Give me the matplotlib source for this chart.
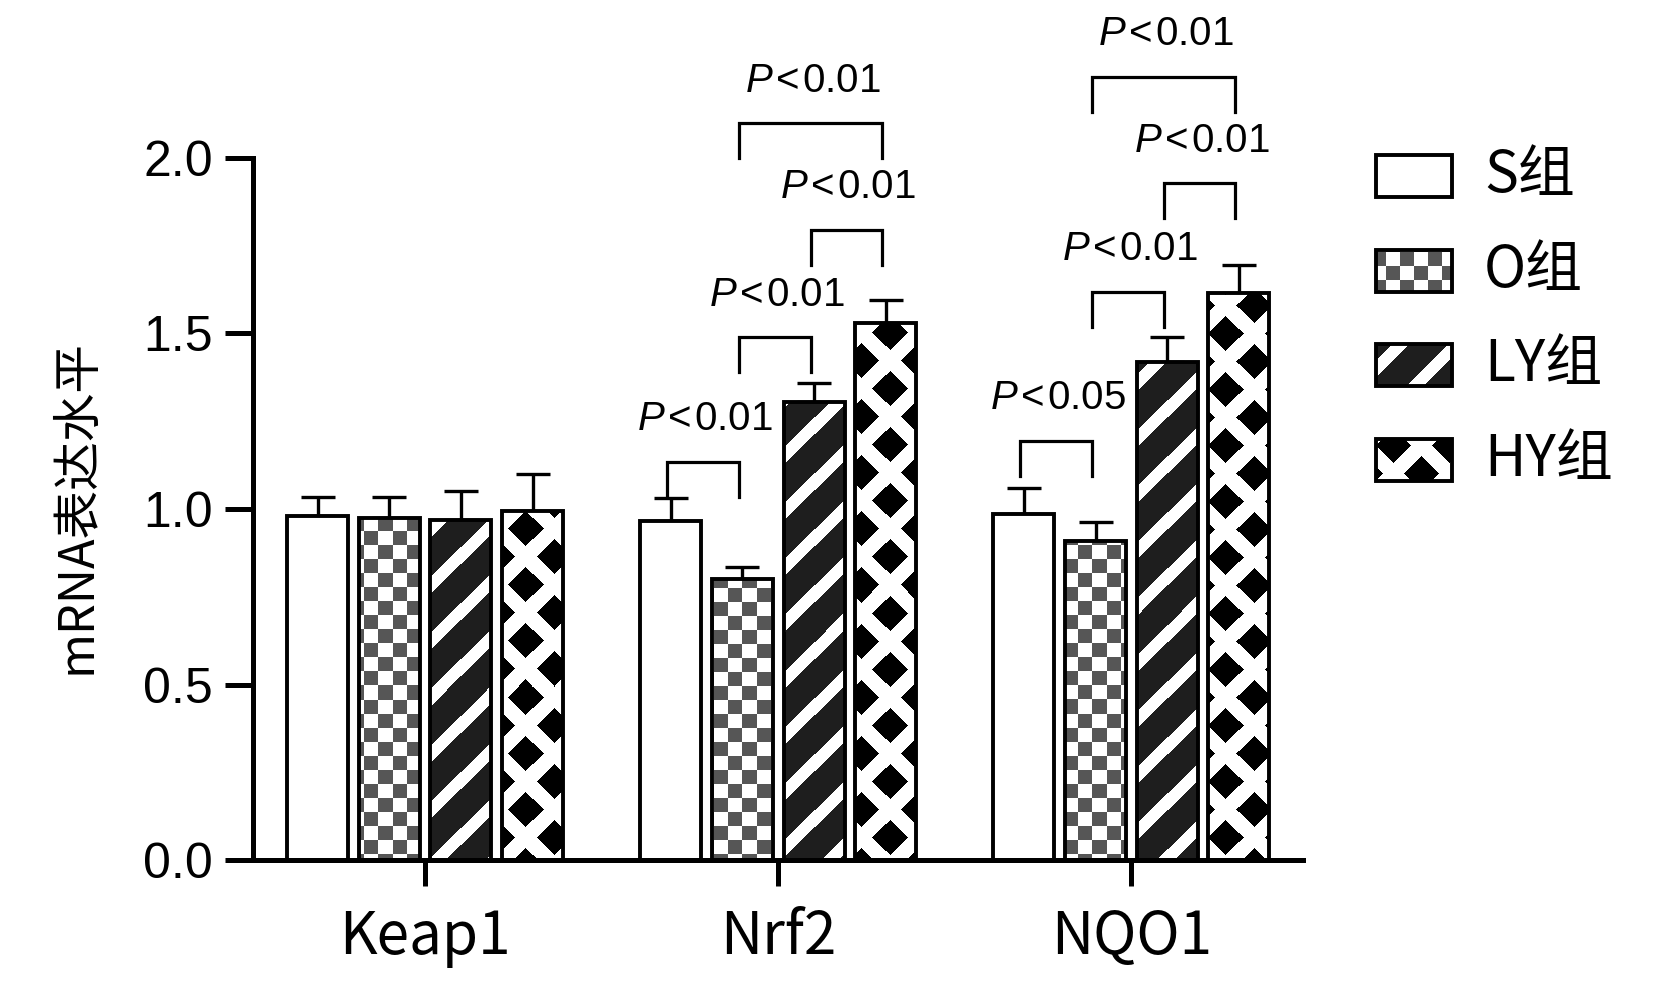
"""Grouped bar chart of relative mRNA levels (Keap1 / Nrf2 / NQO1) with patterned fills."""
import matplotlib
matplotlib.use("Agg")
import matplotlib.pyplot as plt
from matplotlib.patches import Rectangle
import numpy as np

CJK = ["Noto Sans CJK SC", "DejaVu Sans"]
plt.rcParams["font.family"] = ["Liberation Sans", "DejaVu Sans"]
plt.rcParams["mathtext.fontset"] = "custom"
plt.rcParams["mathtext.it"] = "Liberation Sans:italic"
plt.rcParams["mathtext.rm"] = "Liberation Sans"

genes = ["Keap1", "Nrf2", "NQO1"]
groups = ["S组", "O组", "LY组", "HY组"]
fills = ["plain", "checker", "stripe", "diamond"]

s_mean = [0.98, 0.965, 0.985]
o_mean = [0.975, 0.80, 0.91]
ly_mean = [0.97, 1.305, 1.42]
hy_mean = [0.995, 1.53, 1.615]

s_err = [0.055, 0.065, 0.075]
o_err = [0.06, 0.036, 0.052]
ly_err = [0.08, 0.055, 0.07]
hy_err = [0.105, 0.065, 0.08]

# (gene, group a, group b, bracket height, p label)
comparisons = [
    (1, 0, 1, 1.134, "0.01"),
    (1, 1, 2, 1.489, "0.01"),
    (1, 2, 3, 1.795, "0.01"),
    (1, 1, 3, 2.099, "0.01"),
    (2, 0, 1, 1.194, "0.05"),
    (2, 1, 2, 1.618, "0.01"),
    (2, 2, 3, 1.928, "0.01"),
    (2, 1, 3, 2.232, "0.01"),
]

means = [s_mean, o_mean, ly_mean, hy_mean]
errs = [s_err, o_err, ly_err, hy_err]

FIG_W, FIG_H = 1654, 983


def pattern(kind, w, h, x0=0, y0=0):
    # pattern in output pixels (x0, y0 = top-left corner, y downward) so it
    # is anchored to the figure like the original GraphPad fills
    py, px = np.mgrid[0:h, 0:w]
    px = px + x0
    py = py + y0
    img = np.ones((h, w, 3))
    if kind == "checker":
        img[((px // 14 + py // 14) % 2) == 0] = 0.34
    elif kind == "stripe":
        img[:] = 0.12
        img[((px + py) % 56) < 17] = 1.0
    elif kind == "diamond":
        cx = px - 525.0
        cy = py - 585.0
        da = ((cx + cy) / 2.0 + 14) % 28 - 14
        db = ((cx - cy) / 2.0 + 14) % 28 - 14
        img[np.maximum(abs(da), abs(db)) < 8.9] = 0.0
    return img


def fill_pattern(ax, patch, kind):
    if kind == "plain":
        return
    bb = patch.get_window_extent()
    w, h = max(int(round(bb.width)), 1), max(int(round(bb.height)), 1)
    x0, y0 = patch.get_x(), patch.get_y()
    img = pattern(kind, w, h, int(round(bb.x0)), int(round(FIG_H - bb.y1)))
    im = ax.imshow(img,
                   extent=(x0, x0 + patch.get_width(), y0, y0 + patch.get_height()),
                   origin="upper", interpolation="nearest", aspect="auto", zorder=2)
    im.set_clip_path(patch)


fig = plt.figure(figsize=(FIG_W / 100, FIG_H / 100), dpi=100)
ax = fig.add_axes([0.153, 0.1251, 0.635, 0.7142])
ax.set_xlim(-0.487, 2.487)
ax.set_ylim(0, 2.0)

x = np.arange(len(genes))
pitch, width = 0.203, 0.173
for i, (g, m, e, kind) in enumerate(zip(groups, means, errs, fills)):
    xs = x + (i - 1.5) * pitch
    ax.errorbar(xs, m, yerr=[np.zeros(len(e)), e], fmt="none", ecolor="black",
                elinewidth=2.4, capsize=12, capthick=2.4, zorder=1)
    ax.bar(xs, m, width, facecolor="white", edgecolor="none", zorder=1.5)
    bars = ax.bar(xs, m, width, facecolor="none", edgecolor="black",
                  linewidth=2.8, zorder=3)
    for b in bars:
        fill_pattern(ax, b, kind)

# significance brackets
for gi, a, b, y, p in comparisons:
    xa = x[gi] + (a - 1.5) * pitch - 0.01
    xb = x[gi] + (b - 1.5) * pitch - 0.01
    ax.plot([xa, xa, xb, xb], [y - 0.1, y, y, y - 0.1], color="black",
            lw=2.3, clip_on=False, solid_joinstyle="miter")
    ax.text((xa + xb) / 2 + 0.005, y + 0.09, "$P$\u200a<\u200a" + p, ha="center",
            va="baseline", fontsize=29, clip_on=False)

for side in ("top", "right"):
    ax.spines[side].set_visible(False)
for side in ("left", "bottom"):
    ax.spines[side].set_linewidth(3.6)

ticks = [0, 0.5, 1.0, 1.5, 2.0]
ax.set_yticks(ticks)
ax.set_yticklabels([f"{v:.1f}" for v in ticks])
ax.tick_params(axis="y", length=20, width=3.6, pad=9, labelsize=36)
ax.set_xticks(x)
ax.set_xticklabels(genes, family=CJK, fontsize=42)
ax.tick_params(axis="x", length=19, width=3.6, pad=15)

fig.text(77 / FIG_W, 1 - 507 / FIG_H, "mRNA表达水平", rotation=90, ha="center",
         va="center", fontsize=35, family=CJK)

# legend, laid out in figure pixels
lax = fig.add_axes([0, 0, 1, 1])
lax.set_xlim(0, FIG_W)
lax.set_ylim(FIG_H, 0)
lax.axis("off")
for i, (g, kind) in enumerate(zip(groups, fills)):
    top = 155 + i * 94.5
    lax.add_patch(Rectangle((1376, top), 76, 42, facecolor="white",
                            edgecolor="none", zorder=1))
    r = Rectangle((1376, top), 76, 42, facecolor="none", edgecolor="black",
                  linewidth=2.8, zorder=3)
    lax.add_patch(r)
    if kind != "plain":
        im = lax.imshow(pattern(kind, 76, 42, 1376, int(top)),
                        extent=(1376, 1452, top + 42, top),
                        interpolation="nearest", aspect="auto", zorder=2)
        im.set_clip_path(r)
    lax.text(1484, top + 21, g, ha="left", va="center", fontsize=41, family=CJK)
lax.set_xlim(0, FIG_W)
lax.set_ylim(FIG_H, 0)

fig.savefig("out.png", dpi=100)
